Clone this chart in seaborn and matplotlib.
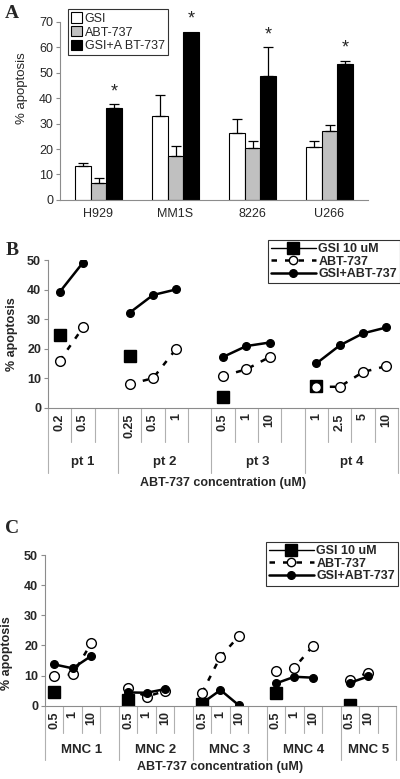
import numpy as np
import pandas as pd
import matplotlib
matplotlib.use("Agg")
import matplotlib.pyplot as plt
import matplotlib.transforms as mtransforms
from matplotlib.lines import Line2D
import seaborn as sns

# ---- panel A data (cell lines) ----
cell_lines = ["H929", "MM1S", "8226", "U266"]
treatments = ["GSI", "ABT-737", "GSI+A BT-737"]
gsi_mean = [13.5, 33.0, 26.4, 20.9]
gsi_err = [0.9, 8.2, 5.3, 2.4]
abt_mean = [6.8, 17.4, 20.3, 27.1]
abt_err = [1.7, 3.8, 3.0, 2.2]
combo_mean = [36.0, 66.1, 48.8, 53.4]
combo_err = [1.6, 0.0, 11.2, 1.3]

# ---- panel B data (patients) ----
pt_names = ["pt 1", "pt 2", "pt 3", "pt 4"]
pt_conc = [["0.2", "0.5", ""], ["0.25", "0.5", "1", ""],
           ["0.5", "1", "10", ""], ["1", "2.5", "5", "10"]]
pt_gsi = [24.6, 17.5, 3.7, 7.3]
pt_abt = [[15.9, 27.2], [8.0, 10.0, 20.0], [10.8, 13.0, 17.2], [7.1, 7.1, 12.1, 14.1]]
pt_combo = [[39.2, 49.2], [32.2, 38.2, 40.1], [17.2, 20.9, 22.1], [15.0, 21.1, 25.2, 27.2]]

# ---- panel C data (normal MNC) ----
mnc_names = ["MNC 1", "MNC 2", "MNC 3", "MNC 4", "MNC 5"]
mnc_conc = [["0.5", "1", "10", ""], ["0.5", "1", "10", ""], ["0.5", "1", "10", ""],
            ["0.5", "1", "10", ""], ["0.5", "10", ""]]
mnc_gsi = [4.6, 1.9, 0.5, 4.3, 0.2]
mnc_abt = [[9.8, 10.4, 20.7], [5.8, 3.0, 4.9], [4.3, 16.3, 23.1], [11.6, 12.6, 19.8], [8.5, 11.0]]
mnc_combo = [[13.7, 12.4, 16.5], [4.4, 4.3, 5.5], [0.8, 5.2, 0.1], [7.4, 9.6, 9.3], [7.6, 9.7]]

sns.set_style("white")
plt.rcParams["font.family"] = ["Liberation Sans", "DejaVu Sans"]

GRAY = "#8c8c8c"
fig = plt.figure(figsize=(4, 7.79), dpi=100)

# ================= A =================
axA = fig.add_axes([0.15, 0.7433, 0.77, 0.2289])
rows = []
for i, c in enumerate(cell_lines):
    rows.append((c, treatments[0], gsi_mean[i], gsi_err[i]))
    rows.append((c, treatments[1], abt_mean[i], abt_err[i]))
    rows.append((c, treatments[2], combo_mean[i], combo_err[i]))
dfA = pd.DataFrame(rows, columns=["line", "treat", "val", "err"])

sns.barplot(data=dfA, x="line", y="val", hue="treat", order=cell_lines, hue_order=treatments,
            palette=["white", "#c0c0c0", "black"], edgecolor="black", linewidth=0.8,
            width=0.6, errorbar=None, ax=axA)

for bar_group, tr in zip(axA.containers, treatments):
    sub = dfA[dfA.treat == tr]
    for bar, (_, r) in zip(bar_group, sub.iterrows()):
        xc = bar.get_x() + bar.get_width() / 2
        if r.err > 0:
            axA.errorbar(xc, r.val, yerr=[[0], [r.err]], color="black", lw=0.9,
                         capsize=3.5, capthick=0.9, fmt="none")
        if tr == treatments[2]:
            axA.text(xc, r.val + r.err + 1.5, "*", ha="center", va="bottom", fontsize=13)

axA.set_ylim(0, 70)
axA.set_xlim(-0.5, 3.5)
axA.set_yticks(range(0, 71, 10))
axA.set_xlabel("")
axA.set_ylabel("% apoptosis", fontsize=9.5)
axA.yaxis.set_label_coords(-0.104, 0.63)
axA.tick_params(axis="y", left=True, length=3, color=GRAY, labelsize=9, pad=2)
axA.tick_params(axis="x", length=0, labelsize=9, pad=6)
for s in ["top", "right"]:
    axA.spines[s].set_visible(False)
for s in ["left", "bottom"]:
    axA.spines[s].set_color(GRAY)
    axA.spines[s].set_linewidth(0.8)
legA = axA.legend(loc="upper left", bbox_to_anchor=(0.025, 1.07), fontsize=9, frameon=True,
                  fancybox=False, edgecolor="black", handlelength=0.9, handleheight=0.9,
                  handletextpad=0.2, borderpad=0.25, labelspacing=0.1, borderaxespad=0)
legA.get_frame().set_linewidth(0.8)


def line_panel(ax, names, concs, gsi, abt, combo, inner_y, group_y, name_y, xlab_y, ylab_x, ylab_y):
    pos_all, lab_all = [], []
    offset = 0
    bounds_inner, bounds_group = [], [-0.5]
    trans = mtransforms.blended_transform_factory(ax.transData, ax.transAxes)
    for g, labels in enumerate(concs):
        pos = [offset + i for i, l in enumerate(labels) if l != ""]
        pos_all += list(range(offset, offset + len(labels)))
        lab_all += labels
        ax.plot([pos[0]], [gsi[g]], ls="none", marker="s", ms=8, color="black")
        ax.plot(pos, abt[g], color="black", lw=1.8, dashes=(2.2, 3.2),
                marker="o", ms=7, mfc="white", mec="black", mew=1.0)
        ax.plot(pos, combo[g], color="black", lw=1.8, marker="o", ms=5.5, mfc="black")
        ax.text(offset + (len(labels) - 1) / 2, name_y, names[g], ha="center", va="center",
                fontsize=9.5, weight="bold", transform=trans)
        bounds_inner += [offset + i + 0.5 for i in range(len(labels) - 1)]
        offset += len(labels)
        bounds_group.append(offset - 0.5)
    for b in bounds_inner:
        ax.plot([b, b], [0, inner_y], color="#b0b0b0", lw=0.8, transform=trans, clip_on=False)
    for b in bounds_group:
        ax.plot([b, b], [0, group_y], color="#b0b0b0", lw=0.8, transform=trans, clip_on=False)
    ax.set_xlim(-0.5, offset - 0.5)
    ax.set_ylim(0, 50)
    ax.set_yticks(range(0, 51, 10))
    ax.set_xticks(pos_all)
    ax.set_xticklabels(lab_all, rotation=90, fontsize=9, weight="bold")
    for t in ax.get_yticklabels():
        t.set_fontweight("bold")
    ax.tick_params(axis="x", length=0, pad=4)
    ax.tick_params(axis="y", left=True, length=3, color=GRAY, labelsize=9, pad=2)
    for s in ["top", "right"]:
        ax.spines[s].set_visible(False)
    for s in ["left", "bottom"]:
        ax.spines[s].set_color(GRAY)
        ax.spines[s].set_linewidth(0.8)
    ax.set_ylabel("% apoptosis", fontsize=9, weight="bold")
    ax.yaxis.set_label_coords(ylab_x, ylab_y)
    ax.text(0.5, xlab_y, "ABT-737 concentration (uM)", ha="center", va="center", fontsize=9,
            weight="bold", transform=ax.transAxes)


def line_legend(ax, anchor):
    handles = [
        Line2D([], [], color="black", lw=1.0, marker="s", ms=8),
        Line2D([], [], color="black", lw=1.8, dashes=(2.2, 3.2), marker="o", ms=6, mfc="white"),
        Line2D([], [], color="black", lw=1.8, marker="o", ms=5.5),
    ]
    leg = ax.legend(handles, ["GSI 10 uM", "ABT-737", "GSI+ABT-737"], loc="upper right",
                    bbox_to_anchor=anchor, frameon=True, fancybox=False,
                    edgecolor="black", handlelength=3.6, handletextpad=0.2, borderpad=0.25,
                    labelspacing=0.05, borderaxespad=0, prop={"weight": "bold", "size": 9})
    leg.get_frame().set_linewidth(0.8)


# ================= B =================
axB = fig.add_axes([0.12, 0.4766, 0.875, 0.1894])
line_panel(axB, pt_names, pt_conc, pt_gsi, pt_abt, pt_combo,
           -0.233, -0.44, -0.37, -0.51, -0.086, 0.5)
line_legend(axB, (1.006, 1.137))

# ================= C =================
axC = fig.add_axes([0.1125, 0.0941, 0.8775, 0.1934])
line_panel(axC, mnc_names, mnc_conc, mnc_gsi, mnc_abt, mnc_combo,
           -0.18, -0.36, -0.293, -0.41, -0.09, 0.35)
line_legend(axC, (1.006, 1.086))

for lab, y in [("A", 0.983), ("B", 0.679), ("C", 0.322)]:
    fig.text(0.03, y, lab, ha="center", va="center", fontsize=14, weight="bold",
             family=["Liberation Serif", "DejaVu Serif"])

fig.savefig("out.png", dpi=100)
